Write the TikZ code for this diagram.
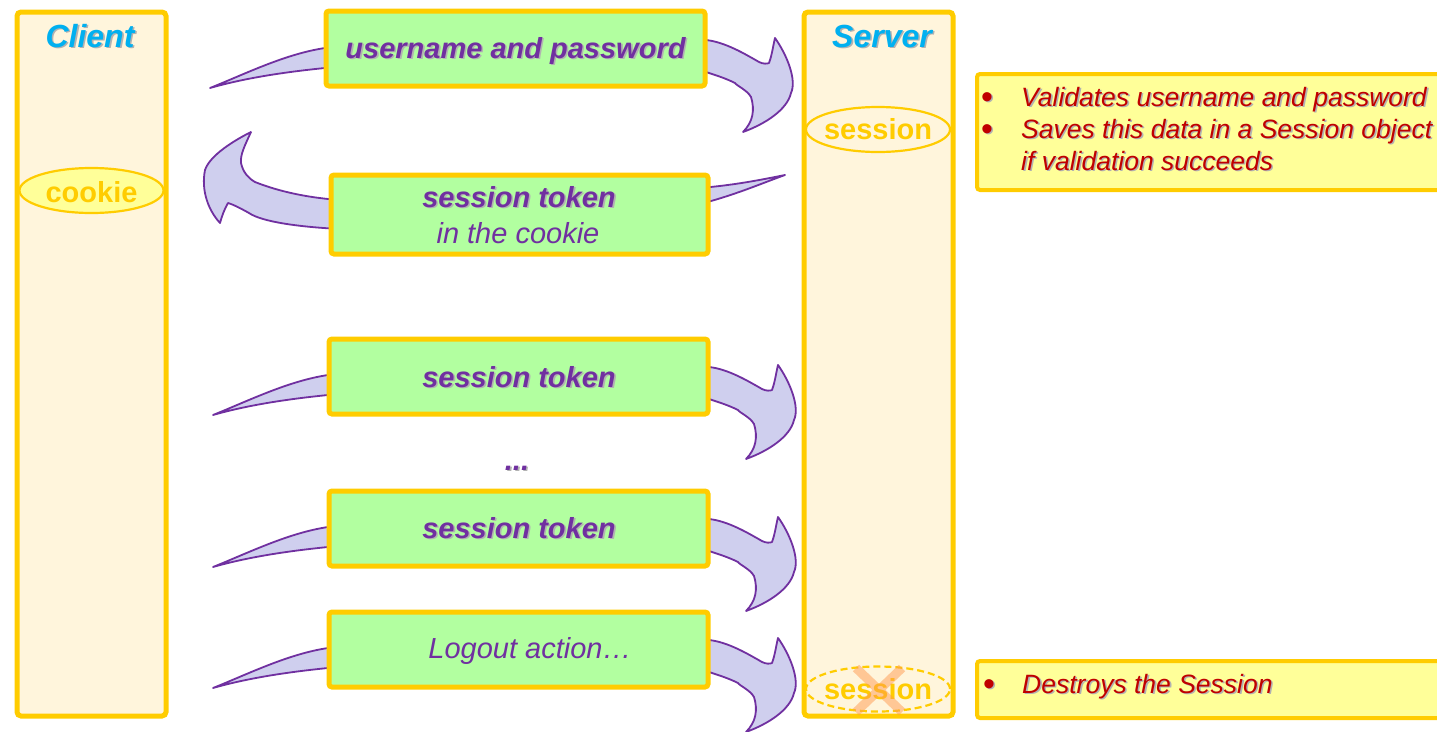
\documentclass[tikz,border=0pt]{standalone}
\usepackage{fontspec}
\setmainfont{Liberation Sans}
\usetikzlibrary{shapes.geometric}
\definecolor{gold}{HTML}{FFCC00}
\definecolor{cream}{HTML}{FFF5DC}
\definecolor{lgreen}{HTML}{B2FFA0}
\definecolor{purp}{HTML}{7030A0}
\definecolor{lav}{HTML}{CFCFEE}
\definecolor{noteyel}{HTML}{FFFF99}
\definecolor{dred}{HTML}{C00000}
\definecolor{cyanc}{HTML}{00B0F0}
\definecolor{xorange}{HTML}{FF9A50}
\newcommand{\shd}[1]{\leavevmode\rlap{\kern1.6pt\raisebox{-1.6pt}{\textcolor{black!30}{#1}}}#1}
\newcommand{\rightflow}[1]{%
  \path[flow, shift={#1}] (-115,78) .. controls (-80,64) and (-40,44) .. (0,38) -- (381,30)
    .. controls (400,32) and (420,44) .. (434,52) .. controls (438,54) and (442,54) .. (444,53)
    .. controls (447,45) and (448,36) .. (450,28) .. controls (462,45) and (472,70) .. (466,83)
    .. controls (462,100) and (440,114) .. (418,122) .. controls (428,112) and (430,100) .. (426,87)
    .. controls (422,80) and (412,76) .. (410,73) .. controls (400,68) and (390,65) .. (381,62)
    -- (0,58) .. controls (-40,62) and (-80,68) .. (-115,78) -- cycle;}
\begin{document}
\begin{tikzpicture}[x=1pt,y=-1pt,
  column/.style={draw=gold, fill=cream, line width=5pt, rounded corners=4pt},
  msgbox/.style={draw=gold, fill=lgreen, line width=5pt, rounded corners=3pt, inner sep=0},
  notebox/.style={draw=gold, fill=noteyel, line width=4pt, rounded corners=3pt},
  flow/.style={draw=purp, fill=lav, line width=1.8pt, line join=round},
  msg/.style={font=\fontsize{29}{32}\selectfont\bfseries\itshape, text=purp, anchor=base, inner sep=0},
  msgplain/.style={font=\fontsize{29}{32}\selectfont\itshape, text=purp, anchor=base, inner sep=0},
  title/.style={font=\fontsize{32}{34}\selectfont\bfseries\itshape, text=cyanc, anchor=base, inner sep=0},
  oval/.style={ellipse, draw=gold, line width=2.2pt, minimum width=144pt, minimum height=45pt, inner sep=0},
  ovaltext/.style={font=\fontsize{29}{32}\selectfont\bfseries, text=gold, anchor=base, inner sep=0},
  note/.style={font=\fontsize{26.5}{30}\selectfont\itshape, text=dred, anchor=base west, inner sep=0},
  bullet/.style={font=\fontsize{34}{36}\selectfont, text=dred, anchor=base, inner sep=0}
]
\useasboundingbox (0,0) rectangle (1437,731);

% columns
\node (client) [column, minimum width=149pt, minimum height=704pt] at (91.5,364) {};
\node (server) [column, minimum width=149pt, minimum height=704pt] at (878.5,364) {};
\node (clientlbl) [title] at (90,47) {\shd{Client}};
\node (serverlbl) [title] at (882,47) {\shd{Server}};

% cookie and sessions
\node (cookie) [oval, fill=noteyel] at (91.5,190.5) {};
\node (cookielbl) [ovaltext] at (91.5,202) {cookie};
\node (session) [oval, fill=cream] at (878,129.5) {};
\node (sessionlbl) [ovaltext] at (878,139) {session};
\node (oldsession) [oval, fill=cream, dashed, dash pattern=on 7pt off 4pt] at (878,689) {};
\node (oldsessionlbl) [ovaltext] at (878,699) {session};
\draw[xorange, opacity=0.5, line width=9pt] (856,668) -- (902,712) (902,668) -- (856,712);

% flow arrows (behind the message boxes)
\rightflow{(325,10)}
\path[flow] (785,175) .. controls (760,184) and (735,195) .. (700,204) -- (340,229)
  .. controls (300,227) and (262,222) .. (249,213) .. controls (240,208) and (232,204) .. (228,203)
  .. controls (224,210) and (222,216) .. (220,223) .. controls (208,210) and (201,190) .. (205,170)
  .. controls (210,155) and (235,140) .. (251,132) .. controls (245,145) and (240,155) .. (241,163)
  .. controls (243,172) and (248,178) .. (255,182) .. controls (280,192) and (310,198) .. (340,200)
  -- (700,188) .. controls (735,185) and (760,180) .. (785,175) -- cycle;
\rightflow{(328,337)}
\rightflow{(328,489)}
\rightflow{(328,610)}

% message boxes
\node (m1) [msgbox, minimum width=379pt, minimum height=75pt] at (515.5,48.5) {};
\node (m1t) [msg] at (515.5,58) {\shd{username and password}};
\node (m2) [msgbox, minimum width=377pt, minimum height=79pt] at (519.5,214.5) {};
\node (m2t) [msg] at (519,207) {\shd{session token}};
\node (m2u) [msgplain] at (518,243) {in the cookie};
\node (m3) [msgbox, minimum width=379pt, minimum height=75pt] at (518.5,376.5) {};
\node (m3t) [msg] at (519,387) {\shd{session token}};
\node (dots) [msg] at (517,470) {\shd{...}};
\node (m4) [msgbox, minimum width=379pt, minimum height=75pt] at (518.5,528.5) {};
\node (m4t) [msg] at (519,538) {\shd{session token}};
\node (m5) [msgbox, minimum width=379pt, minimum height=75pt] at (518.5,649.5) {};
\node (m5t) [msgplain] at (530,658) {Logout action…};

% notes
\node (n1) [notebox, anchor=north west, minimum width=466pt, minimum height=116pt] at (975,72) {};
\node (n1b1) [bullet] at (987,108) {\shd{•}};
\node (n1t1) [note] at (1021,106) {\shd{Validates username and password}};
\node (n1b2) [bullet] at (987,140) {\shd{•}};
\node (n1t2) [note] at (1021,138) {\shd{Saves this data in a Session object}};
\node (n1t3) [note] at (1021,170) {\shd{if validation succeeds}};
\node (n2) [notebox, anchor=north west, minimum width=466pt, minimum height=57pt] at (975,659) {};
\node (n2b1) [bullet] at (989,695) {\shd{•}};
\node (n2t1) [note] at (1022,693) {\shd{Destroys the Session}};
\end{tikzpicture}
\end{document}
